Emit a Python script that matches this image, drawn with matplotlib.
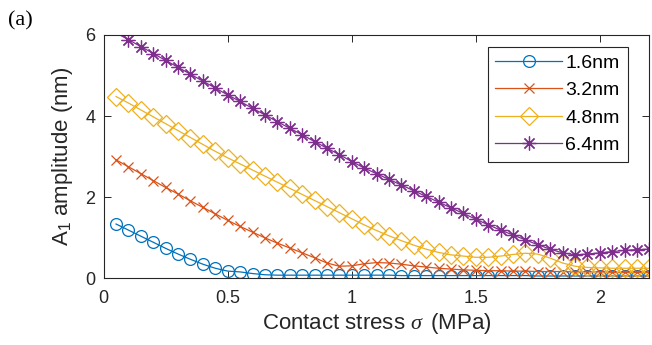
import numpy as np
import matplotlib
matplotlib.use("Agg")
import matplotlib.pyplot as plt

plt.rcParams['font.family'] = ['Liberation Sans', 'DejaVu Sans']
plt.rcParams['mathtext.fontset'] = 'custom'
plt.rcParams['mathtext.rm'] = 'Liberation Sans'
plt.rcParams['mathtext.it'] = 'Liberation Serif:italic'

stress = [0.05, 0.10, 0.15, 0.20, 0.25, 0.30, 0.35, 0.40, 0.45, 0.50,
          0.55, 0.60, 0.65, 0.70, 0.75, 0.80, 0.85, 0.90, 0.95, 1.00,
          1.05, 1.10, 1.15, 1.20, 1.25, 1.30, 1.35, 1.40, 1.45, 1.50,
          1.55, 1.60, 1.65, 1.70, 1.75, 1.80, 1.85, 1.90, 1.95, 2.00,
          2.05, 2.10, 2.15, 2.20]

amp_16 = [1.34, 1.19, 1.04, 0.89, 0.74, 0.60, 0.47, 0.35, 0.25, 0.18,
          0.16, 0.12, 0.09, 0.08, 0.08, 0.08, 0.08, 0.08, 0.08, 0.08,
          0.08, 0.08, 0.08, 0.07, 0.07, 0.07, 0.07, 0.07, 0.07, 0.07,
          0.07, 0.07, 0.07, 0.07, 0.06, 0.06, 0.06, 0.06, 0.06, 0.06,
          0.06, 0.06, 0.06, 0.06]

amp_32 = [2.92, 2.75, 2.58, 2.41, 2.24, 2.08, 1.91, 1.75, 1.59, 1.43,
          1.28, 1.14, 1.00, 0.87, 0.75, 0.63, 0.51, 0.38, 0.30, 0.31,
          0.36, 0.39, 0.38, 0.35, 0.31, 0.28, 0.25, 0.23, 0.21, 0.20,
          0.19, 0.19, 0.18, 0.18, 0.17, 0.17, 0.17, 0.16, 0.16, 0.16,
          0.15, 0.15, 0.15, 0.15]

amp_48 = [4.48, 4.32, 4.15, 3.98, 3.81, 3.64, 3.47, 3.30, 3.13, 2.97,
          2.82, 2.67, 2.52, 2.37, 2.22, 2.07, 1.92, 1.77, 1.62, 1.47,
          1.32, 1.18, 1.05, 0.93, 0.82, 0.72, 0.64, 0.58, 0.55, 0.52,
          0.52, 0.55, 0.59, 0.62, 0.60, 0.50, 0.38, 0.30, 0.27, 0.26,
          0.25, 0.25, 0.25, 0.25]

amp_64 = [6.05, 5.88, 5.71, 5.54, 5.37, 5.20, 5.03, 4.86, 4.69, 4.52,
          4.36, 4.19, 4.03, 3.86, 3.70, 3.54, 3.37, 3.21, 3.05, 2.88,
          2.72, 2.58, 2.44, 2.30, 2.16, 2.02, 1.88, 1.74, 1.60, 1.46,
          1.32, 1.19, 1.07, 0.95, 0.83, 0.72, 0.63, 0.58, 0.60, 0.63,
          0.66, 0.69, 0.71, 0.72]

labels = ['1.6nm', '3.2nm', '4.8nm', '6.4nm']
x_ticks = [0, 0.5, 1, 1.5, 2]
x_ticklabels = ['0', '0.5', '1', '1.5', '2']
y_ticks = [0, 2, 4, 6]

series = [amp_16, amp_32, amp_48, amp_64]
colors = ['#0072BD', '#D95319', '#EDB120', '#7E2F8E']
markers = ['o', 'x', 'D', (8, 2, 0)]
msizes = [8.5, 6.5, 9, 10]

fig = plt.figure(figsize=(6.52, 3.45), dpi=100)
ax = fig.add_axes([0.159, 0.193, 0.837, 0.706])

ymax = 6
for s, c, m, ms, lab in zip(series, colors, markers, msizes, labels):
    vals = np.array(s)
    idx = [i for i, v in enumerate(vals) if v <= ymax]
    kw = dict(markerfacecolor='none') if m in ('o', 'D') else {}
    ax.plot(stress, vals, color=c, marker=m, markersize=ms, linewidth=0.9,
            markeredgewidth=0.9, markevery=idx, label=lab, **kw)

ax.set_xlim(0, 2.2)
ax.set_ylim(0, 6)
ax.set_xticks(x_ticks)
ax.set_xticklabels(x_ticklabels)
ax.set_yticks(y_ticks)
ax.tick_params(direction='in', length=5, width=0.7, top=True, right=True,
               labelsize=13, colors='#262626')
ax.tick_params(axis='x', pad=8)
ax.tick_params(axis='y', pad=6)
for sp in ax.spines.values():
    sp.set_color('#262626')
    sp.set_linewidth(0.8)

ax.set_xlabel(r'Contact stress $\sigma\,$ (MPa)', fontsize=16, color='#262626', labelpad=3)
ax.set_ylabel(r'A$_{1}$ amplitude (nm)', fontsize=16, color='#262626', labelpad=7)

leg = ax.legend(loc='upper left', bbox_to_anchor=(0.748, 0.865),
                bbox_transform=fig.transFigure, prop={'size': 14}, frameon=True,
                fancybox=False, edgecolor='#262626', framealpha=1,
                handlelength=3.4, borderpad=0.4, labelspacing=0.5,
                handletextpad=0.2, borderaxespad=0)
leg.get_frame().set_linewidth(0.8)

fig.text(0.012, 0.925, '(a)', fontsize=16, family='Liberation Serif', color='black')

fig.savefig('out.png', dpi=100)
